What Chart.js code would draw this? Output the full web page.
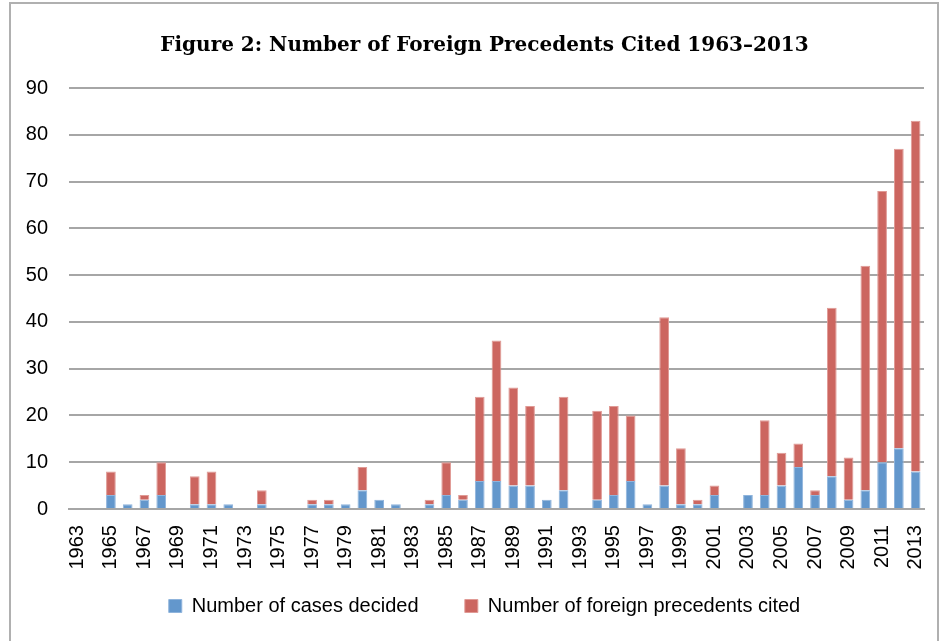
<!DOCTYPE html>
<html>
<head>
<meta charset="utf-8">
<script src="https://cdn.jsdelivr.net/npm/chart.js@4"></script>
<style>
  body { margin: 0; background: #fff; }
  #frame { position: absolute; left: 9px; top: 2px; width: 926px; height: 660px; border: 2px solid #b0b0b0; }
  #wrap { position: absolute; left: 0; top: 0; width: 942px; height: 641px; }
</style>
</head>
<body>
<div id="frame"></div>
<div id="wrap"><canvas id="barChart" width="942" height="641"></canvas></div>
<script>
// years 1963..2013
let years = [];
for (let y = 1963; y <= 2013; y++) years.push(String(y));

let casesDecided = [
  0, 0, 3, 1, 2, 3, 0, 1, 1, 1,
  0, 1, 0, 0, 1, 1, 1, 4, 2, 1,
  0, 1, 3, 2, 6, 6, 5, 5, 2, 4,
  0, 2, 3, 6, 1, 5, 1, 1, 3, 0,
  3, 3, 5, 9, 3, 7, 2, 4, 10, 13,
  8
];

let precedentsCited = [
  0, 0, 5, 0, 1, 7, 0, 6, 7, 0,
  0, 3, 0, 0, 1, 1, 0, 5, 0, 0,
  0, 1, 7, 1, 18, 30, 21, 17, 0, 20,
  0, 19, 19, 14, 0, 36, 12, 1, 2, 0,
  0, 16, 7, 5, 1, 36, 9, 48, 58, 64,
  75
];

let yTicks = [0, 10, 20, 30, 40, 50, 60, 70, 80, 90];

let labelFont = { family: "'Liberation Sans', Arial, sans-serif", size: 20 };

// the y labels sit partly in the left padding, so stop them being clipped
let unclipY = {
  id: 'unclipY',
  afterLayout: function (chart) { chart.scales.y.left = 0; }
};

let ctx = document.getElementById("barChart").getContext('2d');

let myBarChart = new Chart(ctx, {
  type: 'bar',
  data: {
    labels: years,
    datasets: [
      {
        label: 'Number of cases decided',
        data: casesDecided,
        backgroundColor: '#6397cc',
        borderColor: '#8fb4dc',
        borderWidth: 1,
        categoryPercentage: 1.0,
        barPercentage: 0.58
      },
      {
        label: 'Number of foreign precedents cited',
        data: precedentsCited,
        backgroundColor: '#cc6660',
        borderColor: '#e09a95',
        borderWidth: 1,
        categoryPercentage: 1.0,
        barPercentage: 0.58
      }
    ]
  },
  plugins: [unclipY],
  options: {
    responsive: false,
    animation: false,
    layout: { padding: { left: 45, right: 18, top: 0, bottom: 15 } },
    plugins: {
      title: {
        display: true,
        text: 'Figure 2: Number of Foreign Precedents Cited 1963\u20132013',
        color: '#000',
        font: { family: "Georgia, 'DejaVu Serif', serif", size: 20, weight: 'bold' },
        padding: { top: 34, bottom: 30 }
      },
      legend: {
        position: 'bottom',
        labels: {
          color: '#000',
          font: labelFont,
          boxWidth: 13,
          boxHeight: 13,
          padding: 18.5,
          generateLabels: function (chart) {
            let items = Chart.defaults.plugins.legend.labels.generateLabels(chart);
            // wider gap after the first entry, as in the original
            items[0].text = items[0].text + '     ';
            return items;
          }
        }
      },
      tooltip: { enabled: false }
    },
    scales: {
      x: {
        stacked: true,
        afterFit: function (scale) { scale.paddingLeft = 0; scale.paddingRight = 0; },
        grid: { display: false },
        border: { display: true, color: '#a6a6a6', width: 2 },
        ticks: {
          color: '#000',
          font: labelFont,
          autoSkip: false,
          minRotation: 90,
          maxRotation: 90,
          padding: 8,
          callback: function (val, i) { return i % 2 === 0 ? years[i] : ''; }
        }
      },
      y: {
        stacked: true,
        min: 0,
        max: 90,
        afterBuildTicks: function (axis) { axis.ticks = yTicks.map(v => ({ value: v })); },
        afterFit: function (scale) { scale.width = 24; },
        grid: { color: '#a6a6a6', lineWidth: 2, drawTicks: false },
        border: { display: false },
        ticks: {
          color: '#000',
          font: labelFont,
          padding: 21
        }
      }
    }
  }
});
</script>
</body>
</html>
